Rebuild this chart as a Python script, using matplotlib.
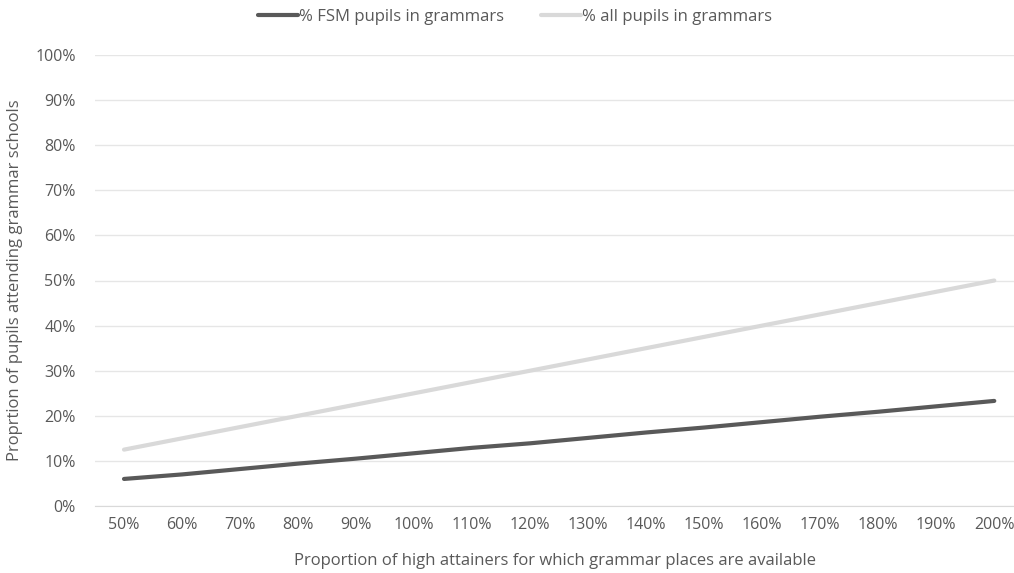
import matplotlib.pyplot as plt
from matplotlib.ticker import PercentFormatter

plt.rcParams['font.family'] = ['Open Sans', 'DejaVu Sans']

# share of high attainers for which grammar places exist
places = ['50%', '60%', '70%', '80%', '90%', '100%', '110%', '120%', '130%',
          '140%', '150%', '160%', '170%', '180%', '190%', '200%']
fsm_pupils = [6.0, 7.0, 8.2, 9.4, 10.5, 11.7, 12.9, 13.9, 15.1, 16.3, 17.4,
              18.6, 19.8, 20.9, 22.1, 23.3]
all_pupils = [12.5, 15.0, 17.5, 20.0, 22.5, 25.0, 27.5, 30.0, 32.5, 35.0,
              37.5, 40.0, 42.5, 45.0, 47.5, 50.0]

txt = '#595959'

fig = plt.figure(figsize=(10.14, 5.73), dpi=100)
ax = fig.add_axes([95 / 1014, 67 / 573, 919 / 1014, 451 / 573])

x = range(len(places))
ax.plot(x, fsm_pupils, color='#595959', lw=3, solid_capstyle='round',
        label='% FSM pupils in grammars')
ax.plot(x, all_pupils, color='#d9d9d9', lw=3, solid_capstyle='round',
        label='% all pupils in grammars')

ax.set_xlim(-0.5, 15.34)
ax.set_ylim(0, 100)
ax.set_yticks(range(0, 101, 10))
ax.yaxis.set_major_formatter(PercentFormatter(decimals=0))
ax.set_xticks(list(x))
ax.set_xticklabels(places)
ax.grid(axis='y', color='#e6e6e6', lw=1)
ax.set_axisbelow(True)
for s in ['top', 'right', 'left']:
    ax.spines[s].set_visible(False)
ax.spines['bottom'].set_color('#d9d9d9')
ax.tick_params(length=0, labelsize=11.5, colors=txt, pad=8)
ax.tick_params(axis='y', pad=14)

ax.set_xlabel('Proportion of high attainers for which grammar places are available',
              fontsize=12, color=txt, labelpad=14)
ax.set_ylabel('Proprtion of pupils attending grammar schools',
              fontsize=12, color=txt, labelpad=9)

fig.legend(loc='center', bbox_to_anchor=(515 / 1014, 1 - 17 / 573), ncol=2,
           frameon=False, fontsize=12, labelcolor=txt, handlelength=2.4,
           handletextpad=0.1, columnspacing=2.2)

fig.savefig('out.png', dpi=100)
